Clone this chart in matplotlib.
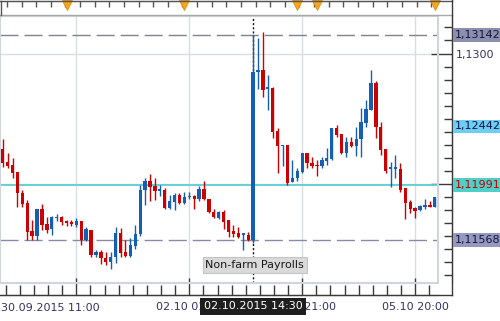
import numpy as np
import matplotlib
matplotlib.use("Agg")
import matplotlib.pyplot as plt
import matplotlib.transforms as mtransforms
from matplotlib.lines import Line2D
from matplotlib.ticker import FixedLocator, FuncFormatter

# ── Données (EUR/USD, bougies) ────────────────────────────────────────────────
opens = [1.12267, 1.12167, 1.12144, 1.12090, 1.11929, 1.11852, 1.11637, 1.11599,
         1.11806, 1.11691, 1.11652, 1.11740, 1.11744, 1.11714, 1.11706, 1.11683,
         1.11714, 1.11568, 1.11645, 1.11453, 1.11476, 1.11430, 1.11399, 1.11437,
         1.11622, 1.11476, 1.11445, 1.11522, 1.11614, 1.11952, 1.12021, 1.11983,
         1.11948, 1.11952, 1.11814, 1.11860, 1.11913, 1.11852, 1.11898, 1.11906,
         1.11883, 1.11960, 1.11883, 1.11783, 1.11737, 1.11783, 1.11721, 1.11637,
         1.11622, 1.11609, 1.11606, 1.11568, 1.12858, 1.12873, 1.12728, 1.12735,
         1.12405, 1.12290, 1.12297, 1.12013, 1.12044, 1.12090, 1.12236, 1.12159,
         1.12141, 1.12136, 1.12175, 1.12190, 1.12428, 1.12382, 1.12236, 1.12320,
         1.12290, 1.12344, 1.12466, 1.12566, 1.12774, 1.12436, 1.12267, 1.12117,
         1.12117, 1.12113, 1.11967, 1.11860, 1.11814, 1.11798, 1.11821, 1.11837,
         1.11821]
highs = [1.12344, 1.12236, 1.12198, 1.12090, 1.11952, 1.11875, 1.11721, 1.11806,
         1.11844, 1.11744, 1.11752, 1.11768, 1.11752, 1.11721, 1.11721, 1.11737,
         1.11714, 1.11668, 1.11645, 1.11491, 1.11491, 1.11476, 1.11476, 1.11668,
         1.11660, 1.11568, 1.11583, 1.11683, 1.11990, 1.12044, 1.12075, 1.12044,
         1.11990, 1.11967, 1.11913, 1.11929, 1.11929, 1.11936, 1.11936, 1.11913,
         1.11983, 1.12021, 1.11883, 1.11806, 1.11791, 1.11798, 1.11721, 1.11683,
         1.11668, 1.11622, 1.11629, 1.13142, 1.13120, 1.13165, 1.12835, 1.12743,
         1.12428, 1.12297, 1.12297, 1.12182, 1.12121, 1.12236, 1.12236, 1.12206,
         1.12182, 1.12205, 1.12274, 1.12428, 1.12451, 1.12382, 1.12359, 1.12359,
         1.12436, 1.12582, 1.12643, 1.12873, 1.12789, 1.12474, 1.12267, 1.12167,
         1.12221, 1.12159, 1.11967, 1.11875, 1.11821, 1.11837, 1.11883, 1.11867,
         1.11898]
lows = [1.12128, 1.12121, 1.12044, 1.11821, 1.11821, 1.11568, 1.11568, 1.11568,
        1.11645, 1.11622, 1.11606, 1.11714, 1.11683, 1.11675, 1.11675, 1.11668,
        1.11529, 1.11560, 1.11437, 1.11437, 1.11384, 1.11376, 1.11345, 1.11391,
        1.11437, 1.11437, 1.11437, 1.11499, 1.11599, 1.11837, 1.11867, 1.11875,
        1.11906, 1.11806, 1.11806, 1.11798, 1.11844, 1.11844, 1.11883, 1.11806,
        1.11867, 1.11875, 1.11775, 1.11737, 1.11729, 1.11652, 1.11591, 1.11591,
        1.11583, 1.11491, 1.11560, 1.11545, 1.12728, 1.12666, 1.12566, 1.12351,
        1.12082, 1.12136, 1.11990, 1.12013, 1.12021, 1.12082, 1.12121, 1.12121,
        1.12059, 1.12121, 1.12144, 1.12182, 1.12359, 1.12228, 1.12205, 1.12282,
        1.12213, 1.12205, 1.12436, 1.12566, 1.12351, 1.12221, 1.12082, 1.11975,
        1.12044, 1.11936, 1.11729, 1.11775, 1.11737, 1.11791, 1.11806, 1.11821,
        1.11821]
closes = [1.12159, 1.12136, 1.12082, 1.11929, 1.11844, 1.11629, 1.11599, 1.11806,
          1.11683, 1.11645, 1.11744, 1.11748, 1.11706, 1.11698, 1.11691, 1.11714,
          1.11568, 1.11652, 1.11453, 1.11476, 1.11430, 1.11399, 1.11437, 1.11622,
          1.11468, 1.11445, 1.11529, 1.11614, 1.11952, 1.12021, 1.11975, 1.11944,
          1.11956, 1.11814, 1.11867, 1.11913, 1.11852, 1.11898, 1.11906, 1.11883,
          1.11960, 1.11883, 1.11783, 1.11744, 1.11783, 1.11706, 1.11629, 1.11614,
          1.11591, 1.11619, 1.11568, 1.12858, 1.12870, 1.12720, 1.12743, 1.12397,
          1.12290, 1.12297, 1.12006, 1.12044, 1.12098, 1.12236, 1.12159, 1.12136,
          1.12136, 1.12182, 1.12198, 1.12428, 1.12374, 1.12236, 1.12320, 1.12290,
          1.12344, 1.12474, 1.12574, 1.12774, 1.12436, 1.12259, 1.12098, 1.12125,
          1.12125, 1.11952, 1.11852, 1.11806, 1.11791, 1.11829, 1.11837, 1.11821,
          1.11898]

level_prices = [1.13142, 1.12442, 1.11991, 1.11568]
level_labels = ["1,13142", "1,12442", "1,11991", "1,11568"]

grid_idx = [15, 38, 61, 84]
time_labels = ["30.09.2015 11:00", "02.10 01:00", "02.10 21:00", "05.10 20:00"]
event_idx = [13, 37, 60, 64, 88]
nfp_idx = 51
nfp_time = "02.10.2015 14:30"
nfp_name = "Non-farm Payrolls"

# ── Style ─────────────────────────────────────────────────────────────────────
W, H = 500, 321
BLUE = "#155fb2"
RED = "#cc0000"
AXIS = "#3a3a3a"
LABEL = "#333366"
GRID = "#dadde4"

plt.rcParams["font.family"] = ["DejaVu Sans"]

fig = plt.figure(figsize=(W / 100, H / 100), dpi=100)
fig.patch.set_facecolor("white")

# zone de tracé : x 0→438 px, y 16→283 px
ax = fig.add_axes([0, 1 - 283 / H, 438 / W, 267 / H])
ax.set_xlim(-0.55, 88.66)
ax.set_ylim(1.11238, 1.13288)
ax.set_xticks([])
ax.set_yticks([])
for s in ax.spines.values():
    s.set_color("#d0d4dc")
    s.set_linewidth(1.5)

# grille
for g in [1.12, 1.13]:
    ax.axhline(g, color=GRID, lw=1, zorder=0)
for g in grid_idx:
    ax.axvline(g, color=GRID, lw=1, zorder=0)

# niveaux
ax.axhline(level_prices[0], color="#80808e", lw=1, dashes=(13, 4.3), zorder=1)
ax.axhline(level_prices[3], color="#8a8aa6", lw=1, dashes=(13, 4.3), zorder=1)
ax.axhline(level_prices[2], color="#5ccfd2", lw=1.3, zorder=1)

# ligne NFP
ax.axvline(nfp_idx, color="#111111", lw=1, ls=(0, (1.5, 1.5)), zorder=2)

# bougies
o = np.array(opens)
h = np.array(highs)
l = np.array(lows)
c = np.array(closes)
x = np.arange(len(o))
cols = np.where(c >= o, BLUE, RED)
ax.vlines(x, l, h, colors=cols, lw=1, zorder=3)
ax.bar(x, np.maximum(np.abs(c - o), 0.00008), bottom=np.minimum(o, c),
       width=0.68, color=cols, lw=0, zorder=4)

# étiquette événement
xa = mtransforms.blended_transform_factory(ax.transData, ax.transAxes)
ax.text(nfp_idx + 0.35, 0.067, nfp_name, transform=xa, ha="center", va="center",
        fontsize=8, color="#1a1a1a", zorder=6,
        bbox=dict(boxstyle="square,pad=0.25", fc="#dadada", ec="#c4c4c4", lw=0.8))
ax.text(nfp_idx, -0.088, nfp_time, transform=xa, ha="center", va="center",
        fontsize=8, color="white", zorder=10, clip_on=False,
        bbox=dict(boxstyle="square,pad=0.35", fc="#1e1e1e", ec="none"))

# axe droit (prix) — 1,1200 est masqué par l'étiquette 1,11991
sec_r = ax.secondary_yaxis(1 + 14 / 438)
sec_r.yaxis.set_major_locator(FixedLocator([1.12, 1.13]))
sec_r.yaxis.set_major_formatter(
    FuncFormatter(lambda v, p: f"{v:.4f}".replace(".", ",") if v > 1.125 else ""))
sec_r.yaxis.set_minor_locator(FixedLocator(np.arange(1.112, 1.1335, 0.001)))
sec_r.tick_params(which="major", direction="in", length=15, width=1, color=AXIS,
                  labelsize=8, labelcolor=LABEL, pad=3)
sec_r.tick_params(which="minor", direction="in", length=6, width=1, color=AXIS)
for s in sec_r.spines.values():
    s.set_color(AXIS)

# axe bas (temps)
sec_b = ax.secondary_xaxis(-12 / 267)
sec_b.set_xticks(grid_idx, labels=[""] + time_labels[1:])
sec_b.xaxis.set_minor_locator(FixedLocator(np.arange(15 - 5 * 23 / 8, 89, 23 / 8)))
sec_b.tick_params(which="major", direction="in", length=12, width=1, color=AXIS,
                  labelsize=8, labelcolor=LABEL, pad=5)
sec_b.tick_params(which="minor", direction="in", length=7, width=1, color=AXIS)
for s in sec_b.spines.values():
    s.set_color(AXIS)
fig.text(1 / W, 1 - 308 / H, time_labels[0], ha="left", va="center",
         fontsize=8, color=LABEL)

# bande du haut (calendrier)
sec_t = ax.secondary_xaxis(1 + 15 / 267)
sec_t.set_xticks(np.arange(0.85, 89, 2.98), labels=[])
sec_t.tick_params(direction="in", length=4, width=1, color="#555555")
for s in sec_t.spines.values():
    s.set_color("#555555")
ft = fig.transFigure
fig.add_artist(Line2D([0, 452 / W], [1 - 15 / H] * 2, color="#a8a8a8", lw=1, transform=ft))
fig.add_artist(Line2D([0, 452 / W], [1 - 1 / H] * 2, color="#555555", lw=1, transform=ft))
fig.add_artist(Line2D([0.5 / W] * 2, [1 - 1 / H, 1 - 15 / H], color="#555555", lw=1, transform=ft))
fig.add_artist(Line2D([452 / W] * 2, [1, 1 - 295 / H], color=AXIS, lw=1, transform=ft))
fig.add_artist(Line2D([0, 452 / W], [1 - 295 / H] * 2, color=AXIS, lw=1, transform=ft))

ev = mtransforms.blended_transform_factory(ax.transData, fig.transFigure)
ax.plot(event_idx, [1 - 5 / H] * len(event_idx), transform=ev, ls="none",
        marker="v", ms=7, color="#f5a623", mec="#e08e0b", mew=0.6,
        clip_on=False, zorder=8)

# étiquettes de niveaux
lv = mtransforms.blended_transform_factory(fig.transFigure, ax.transData)
box_fc = ["#8b8fad", "#6ccdf7", "#4fcfc7", "#9598bf"]
box_tc = ["#15153a", "#15153a", "#c00000", "#15153a"]
for p, t, fc, tc in zip(level_prices, level_labels, box_fc, box_tc):
    fig.text(454.5 / W, p, t, transform=lv, ha="left", va="center", fontsize=8,
             color=tc, zorder=10,
             bbox=dict(boxstyle="square,pad=0.15", fc=fc, ec="none"))

fig.savefig("out.png", dpi=100)
